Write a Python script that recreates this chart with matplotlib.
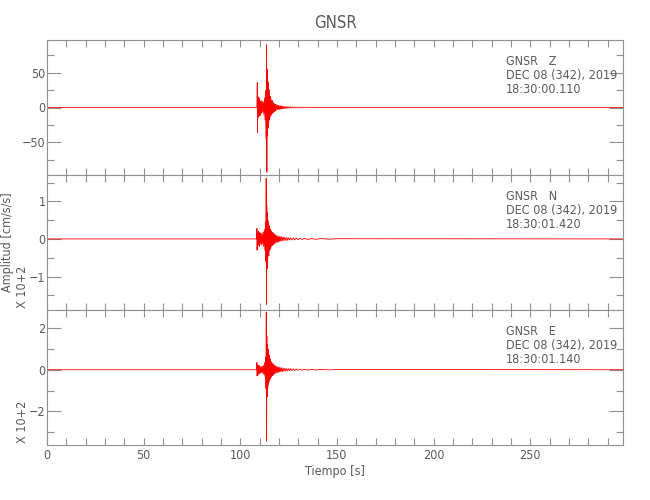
"""Three-component accelerogram for station GNSR (Z, N, E)."""

import matplotlib.pyplot as plt
from matplotlib.ticker import MultipleLocator

### Trace peaks: (time [s], amplitude)
z_trace = [(0, 0), (108.6, 0), (108.8, 36), (108.9, -36), (109.1, 12), (109.3, -14),
           (109.5, 15), (109.7, -10), (109.9, 13), (110.1, -12), (110.3, 9), (110.5, -11),
           (110.8, 10), (111.0, -8), (111.3, 9), (111.6, -7), (111.9, 8), (112.2, -10),
           (112.5, 14), (112.8, -18), (113.1, 25), (113.4, -45), (113.6, 90), (113.75, -93),
           (113.9, 55), (114.1, -40), (114.25, 38), (114.4, -30), (114.55, 34), (114.7, -22),
           (114.85, 26), (115.0, -18), (115.15, 20), (115.3, -15), (115.45, 16), (115.6, -12),
           (115.75, 14), (115.9, -11), (116.1, 10), (116.3, -9), (116.5, 10), (116.7, -8),
           (116.9, 7), (117.1, -7), (117.3, 6), (117.5, -6), (117.7, 5), (117.9, -5),
           (118.1, 5), (118.3, -4), (118.6, 4), (118.9, -4), (119.2, 3.5), (119.5, -3),
           (119.8, 3), (120.1, -3), (120.4, 2.5), (120.7, -2.5), (121.0, 2.5), (121.3, -2),
           (121.6, 2), (121.9, -2), (122.3, 1.8), (122.7, -1.8), (123.1, 1.5), (123.5, -1.5),
           (123.9, 1.4), (124.3, -1.3), (124.8, 1.2), (125.3, -1.1), (125.8, 1), (126.4, -1),
           (127.0, 0.9), (127.6, -0.9), (128.3, 0.8), (129.0, -0.8), (129.8, 0.7), (130.6, -0.6),
           (131.5, 0.6), (132.5, -0.5), (133.5, 0.5), (135.0, -0.4), (136.5, 0.4), (138.0, -0.3),
           (140.0, 0.3), (142.0, -0.25), (145.0, 0.2), (148.0, -0.15), (152.0, 0.1),
           (160.0, -0.1), (298.0, 0)]

# N and E are in units of 10^2 cm/s/s
n_trace = [(0, 0), (108.4, 0), (108.6, 0.28), (108.7, -0.3), (108.9, 0.15), (109.1, -0.18),
           (109.3, 0.2), (109.5, -0.15), (109.7, 0.17), (109.9, -0.2), (110.1, 0.16), (110.3, -0.14),
           (110.6, 0.15), (110.9, -0.16), (111.2, 0.14), (111.5, -0.13), (111.8, 0.18), (112.1, -0.2),
           (112.4, 0.25), (112.7, -0.3), (113.0, 0.45), (113.2, -0.6), (113.4, 1.61), (113.55, -1.74),
           (113.7, 0.9), (113.85, -0.8), (114.0, 0.7), (114.15, -0.55), (114.3, 0.5), (114.45, -0.45),
           (114.6, 0.4), (114.75, -0.45), (114.9, 0.35), (115.05, -0.3), (115.2, 0.32), (115.35, -0.28),
           (115.5, 0.25), (115.65, -0.24), (115.8, 0.22), (116.0, -0.2), (116.2, 0.2), (116.4, -0.18),
           (116.6, 0.17), (116.8, -0.16), (117.0, 0.15), (117.2, -0.14), (117.4, 0.14), (117.6, -0.12),
           (117.8, 0.12), (118.0, -0.11), (118.3, 0.1), (118.6, -0.1), (118.9, 0.09), (119.2, -0.09),
           (119.5, 0.08), (119.8, -0.08), (120.1, 0.07), (120.4, -0.07), (120.7, 0.06), (121.0, -0.06),
           (121.4, 0.06), (121.8, -0.05), (122.2, 0.05), (122.6, -0.05), (123.0, 0.045), (123.5, -0.04),
           (124.0, 0.04), (124.5, -0.04), (125.0, 0.035), (125.6, -0.03), (126.2, 0.03), (126.8, -0.03),
           (127.5, 0.025), (128.2, -0.025), (129, 0.02), (130, -0.02), (131, 0.02), (132, -0.015),
           (133.5, 0.015), (135, -0.015), (137, 0.01), (139, -0.01), (142, 0.01), (146, -0.008),
           (150, 0.006), (298, 0)]

e_trace = [(0, 0), (108.4, 0), (108.6, 0.35), (108.7, -0.3), (108.9, 0.2), (109.1, -0.25),
           (109.3, 0.22), (109.5, -0.2), (109.7, 0.2), (109.9, -0.18), (110.2, 0.15), (110.5, -0.17),
           (110.8, 0.15), (111.1, -0.14), (111.4, 0.16), (111.7, -0.18), (112.0, 0.2), (112.3, -0.25),
           (112.6, 0.35), (112.9, -0.4), (113.1, 0.6), (113.3, -0.9), (113.45, 2.77), (113.6, -3.43),
           (113.75, 1.6), (113.9, -1.3), (114.05, 1.2), (114.2, -0.9), (114.35, 1.0), (114.5, -0.7),
           (114.65, 0.8), (114.8, -0.6), (114.95, 0.7), (115.1, -0.5), (115.25, 0.55), (115.4, -0.45),
           (115.55, 0.5), (115.7, -0.4), (115.85, 0.4), (116.0, -0.35), (116.2, 0.35), (116.4, -0.3),
           (116.6, 0.3), (116.8, -0.27), (117.0, 0.26), (117.2, -0.24), (117.4, 0.23), (117.6, -0.2),
           (117.8, 0.2), (118.0, -0.18), (118.3, 0.18), (118.6, -0.16), (118.9, 0.15), (119.2, -0.14),
           (119.5, 0.14), (119.8, -0.12), (120.1, 0.12), (120.4, -0.11), (120.7, 0.1), (121.0, -0.1),
           (121.4, 0.09), (121.8, -0.09), (122.2, 0.08), (122.6, -0.08), (123.0, 0.07), (123.5, -0.07),
           (124.0, 0.06), (124.5, -0.06), (125.0, 0.055), (125.6, -0.05), (126.2, 0.05), (126.8, -0.045),
           (127.5, 0.04), (128.2, -0.04), (129, 0.035), (130, -0.03), (131, 0.03), (132, -0.025),
           (133.5, 0.025), (135, -0.02), (137, 0.02), (139, -0.015), (142, 0.015), (146, -0.01),
           (150, 0.01), (298, 0)]

components = ['Z', 'N', 'E']
start_times = ['18:30:00.110', '18:30:01.420', '18:30:01.140']
date_label = 'DEC 08 (342), 2019'
y_limits = [(-97, 97), (-1.89, 1.70), (-3.62, 2.87)]
y_major = [50, 1, 2]
y_minor = [25, 0.5, 1]
x_limits = (0, 298)

### Style
txt = '#5a5a5a'
axc = '#909090'
plt.rcParams['font.family'] = ['DejaVu Sans']
plt.rcParams['font.stretch'] = 'condensed'

fig = plt.figure(figsize=(6.5, 5), dpi=100)

left, width = 47 / 650, 576 / 650
tops = [40, 175, 310]
panel_h = 135 / 500

traces = [z_trace, n_trace, e_trace]
axes = []
for i, trace in enumerate(traces):
    bottom = 1 - (tops[i] + 135) / 500
    ax = fig.add_axes([left, bottom, width, panel_h])
    t = [p[0] for p in trace]
    a = [p[1] for p in trace]
    ax.plot(t, a, color='red', linewidth=0.6)
    ax.set_xlim(*x_limits)
    ax.set_ylim(*y_limits[i])

    ax.xaxis.set_major_locator(MultipleLocator(50))
    ax.xaxis.set_minor_locator(MultipleLocator(10))
    ax.yaxis.set_major_locator(MultipleLocator(y_major[i]))
    ax.yaxis.set_minor_locator(MultipleLocator(y_minor[i]))
    ax.tick_params(axis='x', which='both', direction='in', top=True, bottom=True,
                   length=5, width=0.8, color=axc, labelcolor=txt, labelsize=9, pad=3)
    ax.tick_params(axis='y', which='major', direction='in', left=True, right=True,
                   length=10, width=0.8, color=axc, labelcolor=txt, labelsize=9, pad=1)
    ax.tick_params(axis='y', which='minor', direction='in', left=True, right=True,
                   length=5, width=0.8, color=axc)
    for s in ax.spines.values():
        s.set_color(axc)
        s.set_linewidth(0.8)
    if i < 2:
        ax.tick_params(axis='x', labelbottom=False)

    ### Station / component / start time block
    ax.text(0.797, 0.84, 'GNSR   ' + components[i], transform=ax.transAxes,
            color=txt, fontsize=9, va='center', ha='left')
    ax.text(0.797, 0.735, date_label, transform=ax.transAxes,
            color=txt, fontsize=9, va='center', ha='left')
    ax.text(0.797, 0.63, start_times[i], transform=ax.transAxes,
            color=txt, fontsize=9, va='center', ha='left')

    if i > 0:
        fig.text(23 / 650, bottom + 0.004, 'X 10+2', rotation=90, color=txt,
                 fontsize=9, ha='center', va='bottom')
    axes.append(ax)

### Labels
fig.text(0.5154, 1 - 23 / 500, 'GNSR', color=txt, fontsize=12, ha='center', va='center')
fig.text(8 / 650, 1 - 242 / 500, 'Amplitud [cm/s/s]', rotation=90, color=txt,
         fontsize=9, ha='center', va='center')
axes[2].set_xlabel('Tiempo [s]', color=txt, fontsize=9, labelpad=2)

fig.savefig('out.png', dpi=100)
